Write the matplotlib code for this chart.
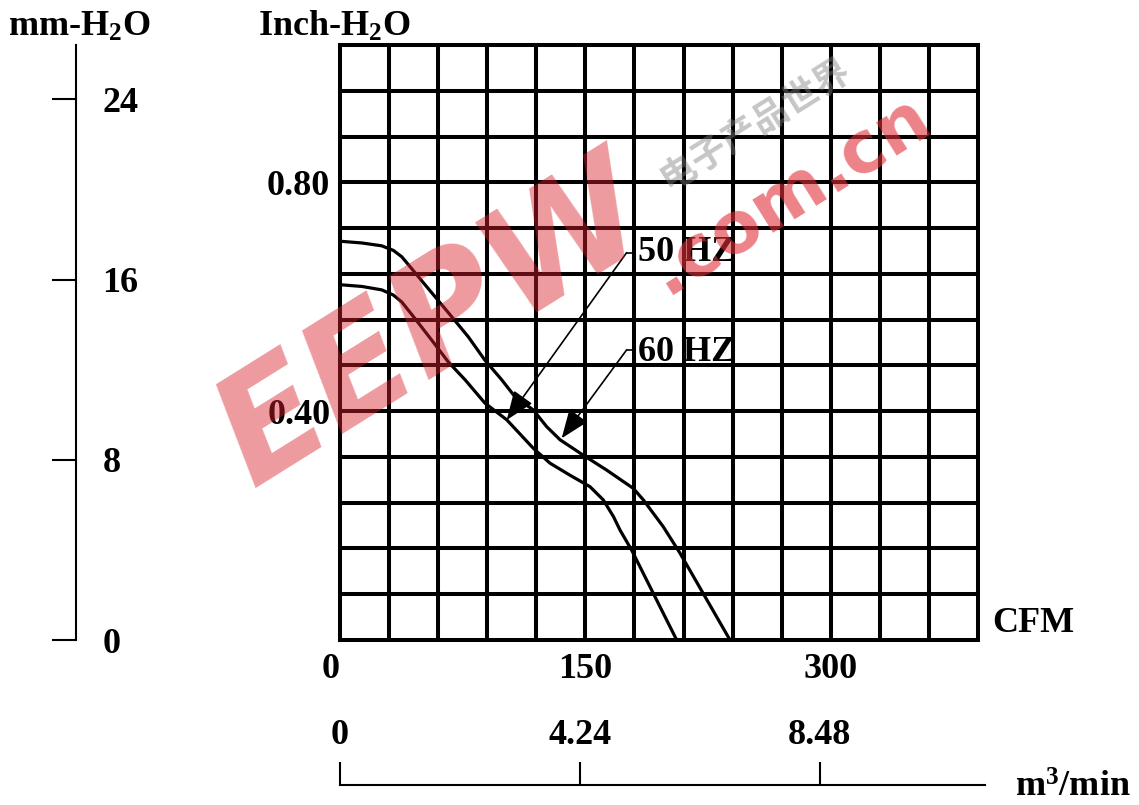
import numpy as np
import matplotlib.pyplot as plt
from matplotlib.transforms import ScaledTranslation

plt.rcParams['font.family'] = ['Liberation Serif', 'DejaVu Serif']
plt.rcParams['font.weight'] = 'bold'
plt.rcParams['mathtext.fontset'] = 'custom'
plt.rcParams['mathtext.rm'] = 'Liberation Serif:bold'
plt.rcParams['mathtext.it'] = 'Liberation Serif:bold'
plt.rcParams['mathtext.bf'] = 'Liberation Serif:bold'

# расход (CFM) и статическое давление (inch H2O)
flow_60hz = [0, 13.3, 25.5, 32.6, 37.7, 41.8, 47.9, 58.1, 68.3, 78.4, 88.6,
             98.8, 107.0, 118.2, 126.3, 134.5, 148.7, 163.0, 179.3, 185.4,
             197.6, 207.8, 238.4]
press_60hz = [0.697, 0.694, 0.689, 0.681, 0.670, 0.656, 0.635, 0.600, 0.565,
              0.530, 0.489, 0.455, 0.425, 0.402, 0.373, 0.350, 0.323, 0.297,
              0.265, 0.245, 0.198, 0.152, 0.0]
flow_50hz = [0, 13.3, 25.5, 32.6, 37.7, 45.8, 56.1, 66.2, 76.4, 88.6, 101.9,
             118.2, 128.4, 140.6, 152.8, 160.9, 167.1, 171.2, 178.3, 205.8]
press_50hz = [0.621, 0.618, 0.612, 0.603, 0.591, 0.562, 0.524, 0.486, 0.455,
              0.414, 0.385, 0.335, 0.309, 0.288, 0.268, 0.245, 0.216, 0.192,
              0.157, 0.0]

cfm_ticks = [0, 150, 300]
inch_ticks = [0.40, 0.80]
mm_ticks = [0, 8, 16, 24]
m3_ticks = [0, 4.24, 8.48]
m3_labels = ['0', '4.24', '8.48']

FS = 26
W, H = 1139, 805
fig = plt.figure(figsize=(W / 100, H / 100), dpi=100)

# основная сетка
ax = fig.add_axes([340 / W, 165 / H, 638 / W, 595 / H])
ax.set_xlim(0, 390)
ax.set_ylim(0, 1.04)
for x in np.arange(30, 390, 30):
    ax.axvline(x, color='black', lw=2.9, zorder=1)
for k in range(1, 13):
    ax.axhline(k * 0.08, color='black', lw=2.9, zorder=1)
for s in ax.spines.values():
    s.set_linewidth(2.9)

ax.plot(flow_60hz, press_60hz, color='black', lw=2.3, zorder=3,
        solid_joinstyle='round')
ax.plot(flow_50hz, press_50hz, color='black', lw=2.3, zorder=3,
        solid_joinstyle='round')

ax.set_xticks(cfm_ticks)
ax.set_xticklabels([str(v) for v in cfm_ticks])
lab0 = ax.xaxis.get_ticklabels()[0]
lab0.set_horizontalalignment('right')
lab0.set_transform(lab0.get_transform() + ScaledTranslation(-0.04, 0, fig.dpi_scale_trans))
ax.set_yticks(inch_ticks)
ax.set_yticklabels(['%.2f' % v for v in inch_ticks])
ax.tick_params(axis='both', length=0, labelsize=FS)
ax.tick_params(axis='x', pad=9)
ax.tick_params(axis='y', pad=7)

# подписи кривых со стрелками
arrow = dict(arrowstyle='-|>,head_length=0.9,head_width=0.35', color='black',
             lw=1.2, mutation_scale=20, shrinkA=0, shrinkB=0)
ax.plot([175.2, 178.5], [0.677, 0.677], color='black', lw=1.2, zorder=4)
ax.annotate('', xy=(101.9, 0.3845), xytext=(175.2, 0.677), arrowprops=arrow, zorder=4)
ax.text(182.2, 0.677, '50 HZ', fontsize=FS, va='center', ha='left', zorder=4)
ax.plot([175.2, 178.5], [0.507, 0.507], color='black', lw=1.2, zorder=4)
ax.annotate('', xy=(135.5, 0.3526), xytext=(175.2, 0.507), arrowprops=arrow, zorder=4)
ax.text(182.2, 0.503, '60 HZ', fontsize=FS, va='center', ha='left', zorder=4)

# шкала мм вод. ст.
ax_mm = fig.add_axes([76 / W, 165 / H, 0.0001, 595 / H])
ax_mm.set_ylim(0, 1.04 * 25.4)
ax_mm.set_xticks([])
for name, s in ax_mm.spines.items():
    s.set_visible(name == 'left')
ax_mm.spines['left'].set_linewidth(1.5)
ax_mm.set_yticks(mm_ticks)
ax_mm.set_yticklabels([str(v) for v in mm_ticks])
ax_mm.tick_params(axis='y', left=True, right=False, labelleft=False, labelright=True,
                  direction='out', length=17, width=1.5, pad=2, labelsize=FS)
ax_mm.patch.set_alpha(0)

# шкала м3/мин
ax_m3 = fig.add_axes([340 / W, 20 / H, 645 / W, 23 / H])
ax_m3.set_xlim(0, 11.4)
ax_m3.set_yticks([])
for name, s in ax_m3.spines.items():
    s.set_visible(name == 'bottom')
ax_m3.spines['bottom'].set_linewidth(1.5)
ax_m3.set_xticks(m3_ticks)
ax_m3.set_xticklabels(m3_labels)
ax_m3.tick_params(axis='x', bottom=True, top=False, labelbottom=False, labeltop=True,
                  direction='in', length=16.5, width=1.5, pad=7, labelsize=FS)
ax_m3.patch.set_alpha(0)

fig.text(8 / W, 1 - 36 / H, 'mm-H$_2$O', fontsize=FS, va='baseline')
fig.text(258 / W, 1 - 36 / H, 'Inch-H$_2$O', fontsize=FS, va='baseline')
fig.text(992 / W, 1 - 632 / H, 'CFM', fontsize=FS, va='baseline')
fig.text(1015 / W, 1 - 797 / H, 'm$^3$/min', fontsize=FS, va='baseline')

# водяной знак
fig.text(435 / W, 1 - 325 / H, 'EEPW', fontsize=108, family='DejaVu Sans',
         weight='bold', style='italic', rotation=32, color='#d9202c', alpha=0.45,
         ha='center', va='center')
fig.text(790 / W, 1 - 195 / H, '.com.cn', fontsize=52, family='DejaVu Sans',
         weight='bold', rotation=32, color='#e0303a', alpha=0.6,
         ha='center', va='center')
fig.text(755 / W, 1 - 125 / H, '电子产品世界', fontsize=26, family=['Noto Sans CJK SC'],
         rotation=32, color='#808080', alpha=0.45, ha='center', va='center')

fig.savefig('out.png', dpi=100)
